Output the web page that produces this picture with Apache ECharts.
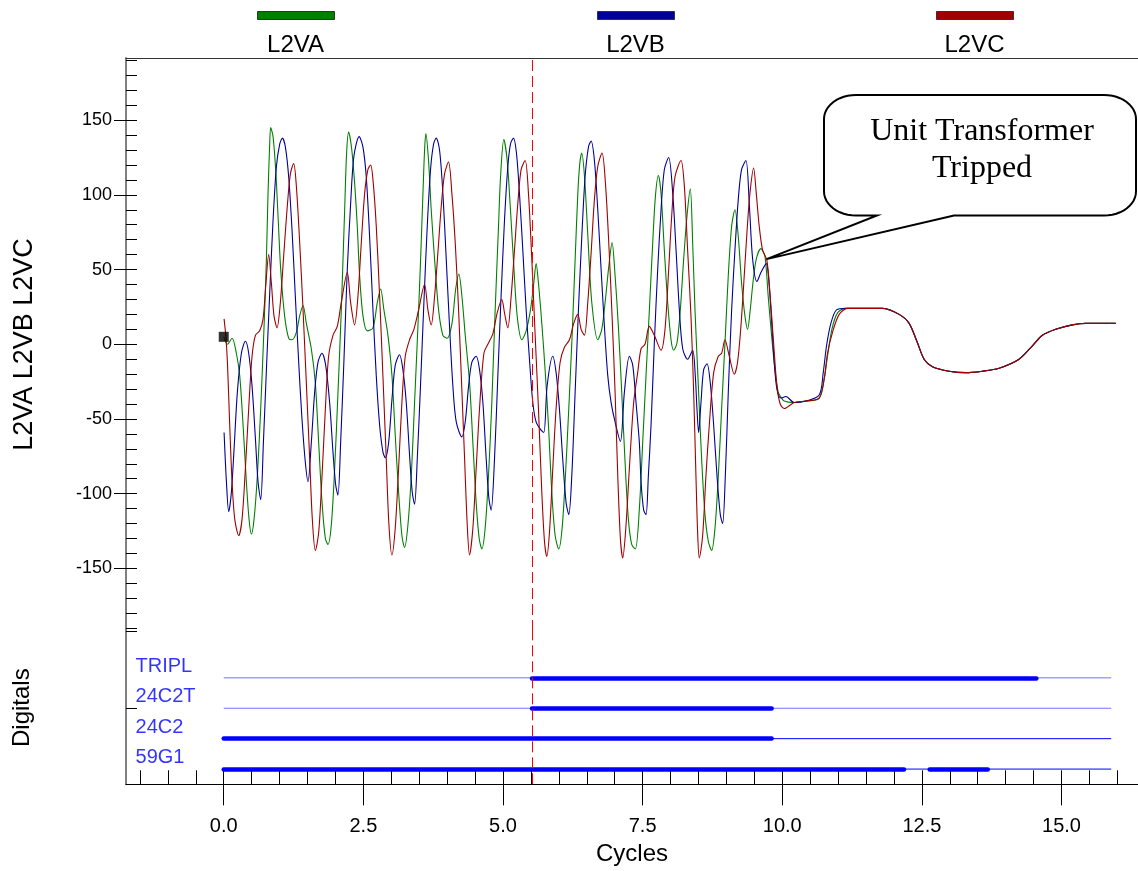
<!DOCTYPE html>
<html>
<head>
<meta charset="utf-8">
<script src="https://cdn.jsdelivr.net/npm/echarts@6/dist/echarts.min.js"></script>
<style>
  html, body { margin: 0; padding: 0; background: #ffffff; }
  #chart { width: 1138px; height: 871px; }
</style>
</head>
<body>
<div id="chart"></div>
<script>
// ---- Analog channels: phase voltages against time in cycles ----
const seriesNames = ['L2VA', 'L2VB', 'L2VC'];

const l2vaPoints = [
  [0.00, 5], [0.066, 0], [0.149, 4], [0.226, -6], [0.286, -21], [0.346, -54], [0.405, -92], [0.453, -117],
  [0.495, -127], [0.543, -117], [0.602, -88], [0.662, -43], [0.722, 12], [0.764, 57], [0.793, 101], [0.823, 134],
  [0.841, 145], [0.883, 139], [0.930, 117], [0.972, 86], [1.02, 50], [1.09, 19], [1.163, 4], [1.222, 3],
  [1.30, 8], [1.36, 19], [1.42, 26], [1.479, 14], [1.568, -3], [1.64, -26], [1.70, -66], [1.76, -106],
  [1.82, -130], [1.866, -134], [1.926, -121], [1.986, -83], [2.046, -32], [2.105, 23], [2.165, 90], [2.2, 128],
  [2.236, 142], [2.29, 131], [2.343, 108], [2.391, 79], [2.433, 46], [2.493, 19], [2.57, 9], [2.672, 11],
  [2.75, 28], [2.809, 37], [2.868, 23], [2.94, 6], [3.012, -21], [3.071, -61], [3.131, -99], [3.19, -128],
  [3.238, -136], [3.298, -121], [3.358, -88], [3.417, -39], [3.477, 12], [3.525, 57], [3.567, 101], [3.596, 130],
  [3.619, 141], [3.667, 123], [3.715, 90], [3.775, 57], [3.847, 23], [3.924, 6], [4.0, 4], [4.087, 14],
  [4.153, 37], [4.21, 47], [4.265, 32], [4.324, 6], [4.402, -26], [4.461, -66], [4.52, -106], [4.574, -130],
  [4.621, -137], [4.681, -123], [4.741, -88], [4.8, -39], [4.86, 23], [4.92, 79], [4.956, 112], [5.015, 137],
  [5.075, 123], [5.134, 90], [5.194, 52], [5.254, 19], [5.337, 3], [5.415, 9], [5.492, 23], [5.552, 41],
  [5.593, 54], [5.635, 41], [5.695, 14], [5.754, -17], [5.814, -54], [5.874, -99], [5.934, -128], [5.999, -137],
  [6.059, -123], [6.118, -88], [6.178, -43], [6.238, 6], [6.292, 57], [6.34, 101], [6.375, 121], [6.41, 128],
  [6.46, 112], [6.52, 72], [6.59, 28], [6.697, 3], [6.769, 10], [6.834, 30], [6.894, 52], [6.953, 68],
  [7.007, 46], [7.066, 12], [7.126, -32], [7.186, -79], [7.245, -117], [7.305, -134], [7.37, -137], [7.442, -110],
  [7.501, -66], [7.561, -21], [7.621, 23], [7.681, 68], [7.729, 99], [7.782, 113], [7.83, 101], [7.889, 63],
  [7.949, 28], [8.009, 3], [8.056, -4], [8.116, 1], [8.175, 23], [8.235, 57], [8.295, 86], [8.354, 104],
  [8.396, 68], [8.438, 23], [8.498, -28], [8.557, -77], [8.617, -114], [8.677, -132], [8.736, -138], [8.796, -123],
  [8.856, -88], [8.915, -43], [8.975, 1], [9.034, 46], [9.094, 79], [9.153, 90], [9.213, 72], [9.272, 41],
  [9.332, 19], [9.38, 10], [9.427, 23], [9.475, 41], [9.535, 57], [9.618, 64], [9.69, 59], [9.749, 32],
  [9.809, 6], [9.869, -17], [9.928, -32], [9.988, -36], [10.036, -38], [10.185, -39], [10.424, -38], [10.662, -36],
  [10.752, -23], [10.811, -8], [10.889, 10], [10.99, 21], [11.14, 24]
];

const l2vbPoints = [
  [0.006, -59], [0.048, -92], [0.089, -112], [0.137, -99], [0.185, -70], [0.244, -32], [0.316, -6], [0.388, 2],
  [0.447, -6], [0.507, -28], [0.567, -63], [0.614, -92], [0.662, -104], [0.71, -66], [0.764, -17], [0.823, 34],
  [0.883, 83], [0.943, 119], [1.002, 134], [1.05, 138], [1.104, 132], [1.163, 112], [1.222, 77], [1.282, 32],
  [1.342, -12], [1.401, -50], [1.461, -79], [1.509, -92], [1.568, -66], [1.628, -32], [1.688, -12], [1.759, -6],
  [1.825, -14], [1.896, -39], [1.956, -72], [2.004, -94], [2.045, -101], [2.093, -66], [2.153, -10], [2.212, 50],
  [2.272, 94], [2.331, 126], [2.425, 139], [2.493, 132], [2.552, 112], [2.612, 72], [2.672, 23], [2.731, -21],
  [2.791, -54], [2.85, -72], [2.892, -76], [2.952, -66], [3.012, -37], [3.071, -14], [3.148, -7], [3.208, -17],
  [3.268, -39], [3.327, -74], [3.375, -99], [3.417, -107], [3.465, -77], [3.525, -26], [3.584, 28], [3.644, 79],
  [3.703, 117], [3.757, 134], [3.804, 138], [3.864, 130], [3.924, 101], [3.984, 57], [4.043, 12], [4.103, -28],
  [4.163, -52], [4.264, -62], [4.324, -52], [4.384, -28], [4.443, -12], [4.52, -8], [4.58, -17], [4.64, -39],
  [4.7, -77], [4.747, -103], [4.788, -111], [4.848, -77], [4.908, -21], [4.968, 34], [5.027, 83], [5.087, 119],
  [5.134, 134], [5.188, 138], [5.241, 128], [5.295, 101], [5.355, 63], [5.415, 23], [5.474, -10], [5.534, -39],
  [5.593, -52], [5.671, -57], [5.731, -59], [5.79, -28], [5.891, -8], [5.951, -19], [6.01, -43], [6.07, -77],
  [6.13, -106], [6.178, -114], [6.232, -88], [6.292, -32], [6.351, 23], [6.411, 72], [6.47, 112], [6.53, 132],
  [6.577, 136], [6.637, 123], [6.697, 90], [6.757, 50], [6.816, 12], [6.876, -21], [6.936, -39], [7.007, -52],
  [7.102, -65], [7.174, -32], [7.263, -8], [7.323, -14], [7.382, -39], [7.442, -66], [7.472, -92], [7.519, -111],
  [7.561, -114], [7.603, -88], [7.651, -54], [7.71, 1], [7.77, 50], [7.83, 90], [7.889, 117], [7.967, 125],
  [8.039, 101], [8.099, 63], [8.158, 23], [8.218, -3], [8.306, -10], [8.396, -4], [8.443, -21], [8.473, -43],
  [8.503, -59], [8.545, -39], [8.593, -17], [8.653, -13], [8.712, -26], [8.772, -54], [8.832, -88], [8.891, -114],
  [8.933, -120], [8.981, -88], [9.034, -32], [9.094, 23], [9.153, 63], [9.213, 97], [9.272, 117], [9.35, 123],
  [9.41, 94], [9.47, 57], [9.547, 42], [9.618, 48], [9.714, 54], [9.767, 39], [9.815, 12], [9.857, -12],
  [9.905, -30], [9.976, -36], [10.066, -35], [10.215, -39], [10.424, -38], [10.662, -34], [10.734, -19], [10.793, -1],
  [10.871, 14], [10.972, 23], [11.14, 24]
];

const l2vcPoints = [
  [0.006, 17], [0.036, 6], [0.066, -12], [0.107, -54], [0.149, -92], [0.197, -117], [0.268, -128], [0.328, -117],
  [0.388, -83], [0.447, -43], [0.507, -8], [0.567, 6], [0.644, 9], [0.704, 17], [0.752, 39], [0.805, 60],
  [0.853, 41], [0.9, 19], [0.954, 11], [1.014, 28], [1.073, 59], [1.133, 90], [1.193, 114], [1.252, 121],
  [1.3, 106], [1.36, 68], [1.42, 23], [1.479, -26], [1.539, -77], [1.586, -117], [1.64, -138], [1.7, -126],
  [1.76, -88], [1.82, -43], [1.878, -8], [1.956, 6], [2.033, 12], [2.105, 28], [2.212, 48], [2.272, 28],
  [2.343, 13], [2.403, 32], [2.463, 68], [2.523, 101], [2.582, 117], [2.63, 120], [2.677, 108], [2.731, 79],
  [2.791, 32], [2.85, -21], [2.91, -77], [2.958, -121], [3.011, -141], [3.071, -123], [3.131, -83], [3.19, -39],
  [3.25, -8], [3.327, 3], [3.405, 10], [3.489, 23], [3.596, 40], [3.656, 23], [3.715, 13], [3.775, 32],
  [3.834, 61], [3.894, 92], [3.954, 114], [4.025, 122], [4.085, 101], [4.145, 68], [4.205, 23], [4.265, -32],
  [4.313, -77], [4.36, -121], [4.401, -141], [4.461, -123], [4.52, -83], [4.58, -43], [4.658, -6], [4.729, 0],
  [4.818, 7], [4.896, 21], [4.979, 30], [5.027, 21], [5.086, 11], [5.146, 32], [5.206, 63], [5.265, 94],
  [5.325, 117], [5.397, 123], [5.456, 101], [5.516, 57], [5.576, 6], [5.635, -43], [5.695, -99], [5.743, -132],
  [5.784, -142], [5.832, -126], [5.892, -83], [5.951, -43], [6.023, -12], [6.1, -2], [6.19, 3], [6.267, 14],
  [6.339, 20], [6.399, 10], [6.458, 6], [6.518, 28], [6.578, 61], [6.637, 97], [6.697, 119], [6.774, 128],
  [6.834, 108], [6.894, 68], [6.953, 19], [7.007, -32], [7.055, -88], [7.102, -130], [7.144, -143], [7.203, -121],
  [7.263, -83], [7.34, -39], [7.412, -19], [7.472, -3], [7.543, 0], [7.62, 12], [7.709, 6], [7.83, -4],
  [7.901, 10], [7.961, 46], [8.021, 86], [8.08, 112], [8.187, 123], [8.247, 106], [8.306, 63], [8.366, 19],
  [8.414, -32], [8.455, -88], [8.485, -126], [8.515, -143], [8.575, -128], [8.634, -88], [8.694, -54], [8.772, -19],
  [8.855, -8], [8.915, -6], [8.974, 3], [9.052, -8], [9.141, -20], [9.2, -12], [9.26, 12], [9.32, 46],
  [9.379, 81], [9.427, 103], [9.487, 118], [9.535, 101], [9.588, 79], [9.648, 63], [9.726, 56], [9.785, 32],
  [9.845, 1], [9.905, -28], [9.964, -40], [10.036, -43], [10.215, -39], [10.424, -38], [10.662, -36], [10.752, -23],
  [10.811, -6], [10.9, 8], [11.02, 20], [11.17, 24]
];

// After the trip all three phases follow the same decaying trace
const settledTail = [
  [11.497, 24], [11.795, 24], [12.093, 20], [12.272, 14], [12.421, 1], [12.54, -10], [12.69, -15], [12.988, -18],
  [13.286, -19], [13.584, -18], [13.883, -16], [14.24, -10], [14.479, -1], [14.658, 6], [14.896, 10], [15.194, 13],
  [15.433, 14], [15.97, 14]
];

// Cursor marker at the start of the record
const cursorPoint = [0, 5];

// ---- Digital channels: on-intervals (cycles) ----
const digitalChannels = ['TRIPL', '24C2T', '24C2', '59G1'];
const digitalOnSpans = [
  [[5.52, 14.55]],
  [[5.52, 9.81]],
  [[0, 9.81]],
  [[0, 12.18], [12.64, 13.68]]
];
const recordSpan = [0, 15.89];
const tripCycle = 5.52;

// Annotation anchor (cycles, kV)
const calloutTarget = [9.72, 57];
const calloutText = 'Unit Transformer\nTripped';

// Tick labels
const xMajorTicks = [0, 2.5, 5, 7.5, 10, 12.5, 15];
const yMajorTicks = [-150, -100, -50, 0, 50, 100, 150];

// ---- Layout / style ----
const X_MIN = -1.75, X_MAX = 16.37;
const Y_MIN = -191.9, Y_MAX = 191.6;
const D_MAX = 5.04;
const FONT = '"Liberation Sans", Arial, sans-serif';
const seriesColors = ['#008000', '#000099', '#a00000'];
const digitalColor = '#0000ff';
const labelCycle = -1.57;

const xMinorTicks = [];
for (let v = -1.5; v <= 16.0001; v += 0.5) xMinorTicks.push(+v.toFixed(2));
const yMinorTicks = [];
for (let v = -190; v <= 190; v += 10) yMinorTicks.push(v);

const chart = echarts.init(document.getElementById('chart'), null, { renderer: 'canvas' });

const tripMarker = {
  silent: true, symbol: 'none', label: { show: false },
  lineStyle: { color: '#ff0000', type: [11, 5], width: 1 },
  emphasis: { disabled: true },
  data: [{ xAxis: tripCycle }]
};

const analogSeries = [l2vaPoints, l2vbPoints, l2vcPoints].map((pts, i) => ({
  name: seriesNames[i],
  type: 'line',
  xAxisIndex: 0,
  yAxisIndex: 0,
  data: pts.concat(settledTail),
  showSymbol: false,
  smooth: 0.3,
  lineStyle: { color: seriesColors[i], width: 1.1 },
  itemStyle: { color: seriesColors[i] },
  emphasis: { disabled: true },
  silent: true,
  z: 3,
  markLine: i === 0 ? tripMarker : undefined
}));

const level = i => digitalChannels.length - i - 0.5;

const digitalBase = digitalChannels.map((name, i) => ({
  name: name + ' record',
  type: 'line',
  xAxisIndex: 1,
  yAxisIndex: 2,
  data: [[recordSpan[0], level(i)], [recordSpan[1], level(i)]],
  showSymbol: false,
  lineStyle: { color: digitalColor, width: 1, opacity: i < 2 ? 0.55 : 1 },
  emphasis: { disabled: true },
  silent: true,
  z: 2,
  markLine: i === 0 ? tripMarker : undefined
}));

const digitalOn = {
  name: 'digital on',
  type: 'lines',
  coordinateSystem: 'cartesian2d',
  xAxisIndex: 1,
  yAxisIndex: 2,
  polyline: false,
  silent: true,
  lineStyle: { color: digitalColor, width: 4.5, opacity: 1, cap: 'round' },
  data: digitalOnSpans.flatMap((spans, i) =>
    spans.map(s => ({ coords: [[s[0], level(i)], [s[1], level(i)]] }))),
  z: 4
};

const digitalLabels = {
  name: 'digital names',
  type: 'scatter',
  xAxisIndex: 1,
  yAxisIndex: 2,
  symbolSize: 1,
  itemStyle: { color: 'transparent' },
  silent: true,
  data: digitalChannels.map((n, i) => ({ name: n, value: [labelCycle, level(i)] })),
  label: {
    show: true, formatter: '{b}', position: [0, 0], align: 'left', verticalAlign: 'bottom',
    offset: [0, -1], color: digitalColor, fontSize: 20, fontFamily: FONT
  },
  z: 5
};

const cursorSeries = {
  name: 'cursor',
  type: 'scatter',
  xAxisIndex: 0,
  yAxisIndex: 0,
  data: [cursorPoint],
  symbol: 'rect',
  symbolSize: 10,
  itemStyle: { color: '#000000' },
  silent: true,
  z: 6
};

const legendCenters = [295.5, 635.5, 974.5];
const legendGraphics = [];
seriesNames.forEach((n, i) => {
  legendGraphics.push({
    type: 'rect', left: legendCenters[i] - 38.5, top: 11,
    shape: { width: 77, height: 8 },
    style: { fill: seriesColors[i], stroke: '#333333', lineWidth: 1 }
  });
  legendGraphics.push({
    type: 'text', x: legendCenters[i], y: 45,
    style: { text: n, font: '24px ' + FONT, fill: '#000', align: 'center', verticalAlign: 'middle',
             textAlign: 'center', textVerticalAlign: 'middle' }
  });
});

const nameStyle = { fontSize: 24, color: '#000000', fontFamily: FONT };

const option = {
  animation: false,
  backgroundColor: '#ffffff',
  textStyle: { fontFamily: FONT },
  grid: [
    { left: 126, right: 0, top: 58, height: 573, outerBoundsMode: 'none', containLabel: false },
    { left: 126, right: 0, top: 631, height: 153.3, outerBoundsMode: 'none', containLabel: false }
  ],
  xAxis: [
    {
      gridIndex: 0, type: 'value', min: X_MIN, max: X_MAX, position: 'top',
      axisLine: { show: true, onZero: false, lineStyle: { color: '#333333', width: 1 } },
      axisTick: { show: false }, axisLabel: { show: false }, splitLine: { show: false }
    },
    {
      gridIndex: 1, type: 'value', min: X_MIN, max: X_MAX, position: 'bottom',
      axisLine: { show: true, onZero: false, lineStyle: { color: '#000000', width: 1 } },
      axisTick: { show: true, inside: false, length: 21, customValues: xMajorTicks,
                  lineStyle: { color: '#000000', width: 1 } },
      axisLabel: { show: true, customValues: xMajorTicks, formatter: v => v.toFixed(1),
                   margin: 32, fontSize: 20, color: '#000000', fontFamily: FONT },
      splitLine: { show: false },
      name: 'Cycles', nameLocation: 'middle', nameGap: 58, nameTextStyle: nameStyle
    },
    {
      gridIndex: 1, type: 'value', min: X_MIN, max: X_MAX, position: 'bottom',
      axisLine: { show: false, onZero: false },
      axisTick: { show: true, inside: true, length: 14, customValues: xMinorTicks,
                  lineStyle: { color: '#000000', width: 1 } },
      axisLabel: { show: false }, splitLine: { show: false }
    }
  ],
  yAxis: [
    {
      gridIndex: 0, type: 'value', min: Y_MIN, max: Y_MAX, position: 'left',
      axisLine: { show: true, onZero: false, lineStyle: { color: '#808080', width: 2 } },
      axisTick: { show: true, inside: false, length: 12, customValues: yMajorTicks,
                  lineStyle: { color: '#000000', width: 1 } },
      axisLabel: { show: true, customValues: yMajorTicks, margin: 14, fontSize: 18,
                   color: '#000000', fontFamily: FONT },
      splitLine: { show: false },
      name: 'L2VA L2VB L2VC', nameLocation: 'middle', nameGap: 88,
      nameTextStyle: { fontSize: 27, color: '#000000', fontFamily: FONT }
    },
    {
      gridIndex: 0, type: 'value', min: Y_MIN, max: Y_MAX, position: 'left',
      axisLine: { show: false, onZero: false },
      axisTick: { show: true, inside: true, length: 11, customValues: yMinorTicks,
                  lineStyle: { color: '#000000', width: 1 } },
      axisLabel: { show: false }, splitLine: { show: false }
    },
    {
      gridIndex: 1, type: 'value', min: 0, max: D_MAX, position: 'left',
      axisLine: { show: true, onZero: false, lineStyle: { color: '#808080', width: 2 } },
      axisTick: { show: true, inside: true, length: 11, customValues: [2.5, D_MAX],
                  lineStyle: { color: '#000000', width: 1 } },
      axisLabel: { show: false }, splitLine: { show: false },
      name: 'Digitals', nameLocation: 'middle', nameGap: 92, nameTextStyle: nameStyle
    }
  ],
  graphic: legendGraphics,
  series: [...analogSeries, cursorSeries, ...digitalBase, digitalOn, digitalLabels]
};

chart.setOption(option);

// Speech-bubble annotation: rounded box whose tail points at the post-trip waveform
const tip = chart.convertToPixel({ xAxisIndex: 0, yAxisIndex: 0 }, calloutTarget);
const B = { l: 824, r: 1136, t: 95, b: 215.5, rx: 32, ry: 24, tailL: 877, tailR: 954 };
const bubble = [];
function corner(cx, cy, a0, a1) {
  const steps = 12;
  for (let s = 0; s <= steps; s++) {
    const a = a0 + (a1 - a0) * s / steps;
    bubble.push([cx + B.rx * Math.cos(a), cy + B.ry * Math.sin(a)]);
  }
}
corner(B.r - B.rx, B.t + B.ry, -Math.PI / 2, 0);           // top-right
corner(B.r - B.rx, B.b - B.ry, 0, Math.PI / 2);            // bottom-right
bubble.push([B.tailR, B.b], [tip[0], tip[1]], [B.tailL, B.b]);
corner(B.l + B.rx, B.b - B.ry, Math.PI / 2, Math.PI);      // bottom-left
corner(B.l + B.rx, B.t + B.ry, Math.PI, 1.5 * Math.PI);    // top-left

chart.setOption({
  graphic: legendGraphics.concat([
    {
      type: 'polygon', z: 50,
      shape: { points: bubble },
      style: { fill: '#ffffff', stroke: '#000000', lineWidth: 2, lineJoin: 'miter' }
    },
    {
      type: 'text', z: 51, x: 982, y: 150,
      style: {
        text: calloutText, font: '32px "Liberation Serif", "Times New Roman", serif',
        lineHeight: 37, fill: '#000000', align: 'center', verticalAlign: 'middle',
        textAlign: 'center', textVerticalAlign: 'middle'
      }
    }
  ])
});
</script>
</body>
</html>
